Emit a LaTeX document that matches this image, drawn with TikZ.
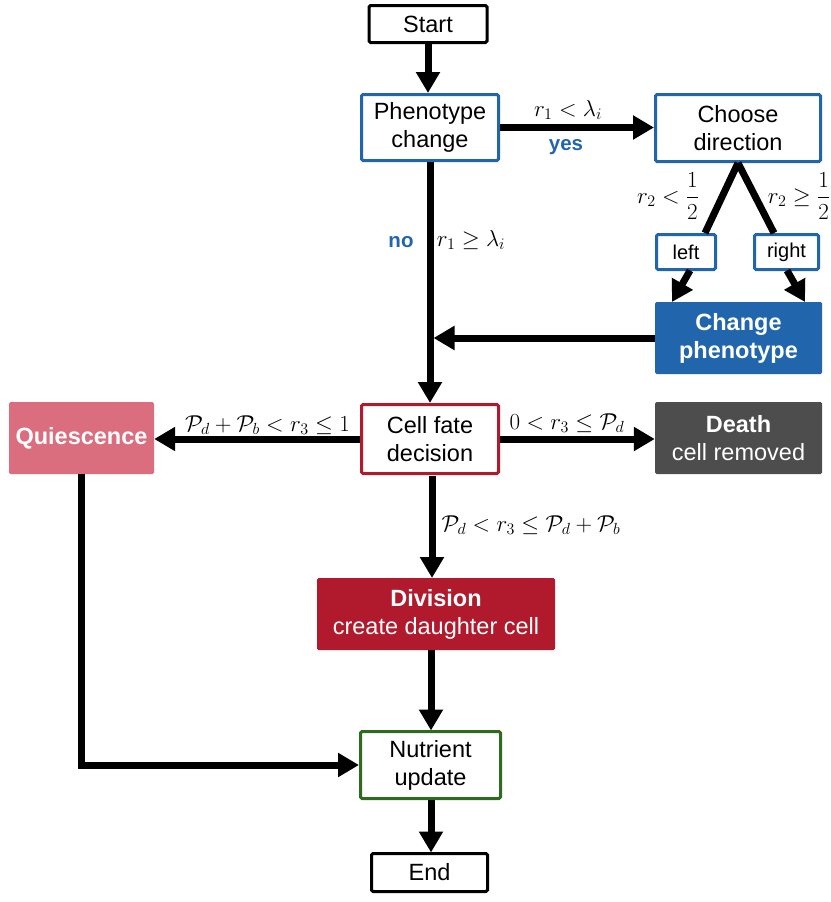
\RequirePackage{fix-cm}
\documentclass[tikz,border=0pt]{standalone}
\usepackage{fontspec}
\setmainfont{Liberation Sans}
\usetikzlibrary{arrows.meta,calc}
\definecolor{cblue}{HTML}{2166AC}
\definecolor{cpink}{HTML}{DA6E7E}
\definecolor{cgray}{HTML}{4D4D4D}
\definecolor{cred}{HTML}{B11A2C}
\definecolor{cgreen}{HTML}{2E6B1F}
\begin{document}
\begin{tikzpicture}[x=1pt,y=-1pt,
  box/.style={draw, line width=3pt, rounded corners=1.5pt, align=center, inner sep=0pt,
    font=\fontsize{23.5}{28}\selectfont},
  small/.style={box, font=\fontsize{20}{24}\selectfont},
  filled/.style={rounded corners=1.5pt, align=center, inner sep=0pt, text=white,
    font=\fontsize{23.5}{28}\selectfont},
  flow/.style={line width=7pt, -{Triangle[length=21pt,width=23pt]}},
  plain/.style={line width=7pt},
  lbl/.style={inner sep=0pt, font=\fontsize{23}{26}\selectfont},
  yn/.style={inner sep=0pt, text=cblue, font=\fontsize{20.5}{24}\selectfont\bfseries}]
\useasboundingbox (0,0) rectangle (830,902);

\node[box, minimum width=118pt, minimum height=37pt] (start) at (428,24) {Start};
\node[box, draw=cblue, minimum width=137pt, minimum height=66pt] (pheno) at (430,127.5) {Phenotype\\change};
\node[box, draw=cblue, minimum width=165pt, minimum height=67pt] (choose) at (738,128) {Choose\\direction};
\node[small, draw=cblue, minimum width=59pt, minimum height=35pt] (left) at (686,252) {left};
\node[small, draw=cblue, minimum width=64pt, minimum height=35pt] (right) at (786.5,252) {right};
\node[filled, fill=cblue, minimum width=167pt, minimum height=72pt] (chg) at (738.5,338) {\textbf{Change}\\\textbf{phenotype}};
\node[box, draw=cred, minimum width=137pt, minimum height=69pt] (cell) at (430,439) {Cell fate\\decision};
\node[filled, fill=cpink, minimum width=145pt, minimum height=72pt] (quies) at (81.5,438) {\textbf{Quiescence}};
\node[filled, fill=cgray, minimum width=167pt, minimum height=72pt] (death) at (738.5,438) {\textbf{Death}\\cell removed};
\node[filled, fill=cred, minimum width=238pt, minimum height=72pt] (div) at (436,614) {\textbf{Division}\\create daughter cell};
\node[box, draw=cgreen, minimum width=140pt, minimum height=67pt] (nutr) at (430.5,765) {Nutrient\\update};
\node[box, minimum width=116pt, minimum height=38pt] (end) at (429.5,872.5) {End};

% connectors
\draw[flow] (start.south) -- (start.south |- pheno.north);
\draw[flow] (pheno.east) -- (pheno.east -| choose.west);
\draw[flow] (pheno.south) -- (pheno.south |- cell.north);
\coordinate (cl) at (705,233);
\coordinate (cr) at (774,233);
\draw[plain] (choose.south) -- (cl);
\draw[plain] (choose.south) -- (cr);
\draw[flow] (690,270.5) -- (672,302);
\draw[flow] (787,270.5) -- (805,302);
\draw[flow, shorten >=3.5pt] (chg.west) -- (chg.west -| pheno.south);
\draw[flow] (cell.west) -- (cell.west -| quies.east);
\draw[flow] (cell.east) -- (cell.east -| death.west);
\draw[flow] (432,475.5) -- (432,578);
\draw[flow] (431,650) -- (431,730.5);
\draw[flow] (quies.south) |- (nutr.west);
\draw[flow] (431,799.5) -- (431,852.5);

% labels
\node[lbl] (l1) at (568,110) {$r_1 < \lambda_i$};
\node[yn] (l2) at (566,147) {yes};
\node[yn] (l3) at (401,242) {no};
\node[lbl] (l4) at (471,240) {$r_1 \geq \lambda_i$};
\node[lbl] (l5) at (668,196) {$r_2 < \displaystyle\frac{1}{2}$};
\node[lbl] (l6) at (799,196) {$r_2 \geq \displaystyle\frac{1}{2}$};
\node[lbl] (l7) at (267.5,425) {$\mathcal{P}_d + \mathcal{P}_b < r_3 \leq 1$};
\node[lbl] (l8) at (567,423) {$0 < r_3 \leq \mathcal{P}_d$};
\node[lbl] (l9) at (531,525) {$\mathcal{P}_d < r_3 \leq \mathcal{P}_d + \mathcal{P}_b$};
\end{tikzpicture}
\end{document}
